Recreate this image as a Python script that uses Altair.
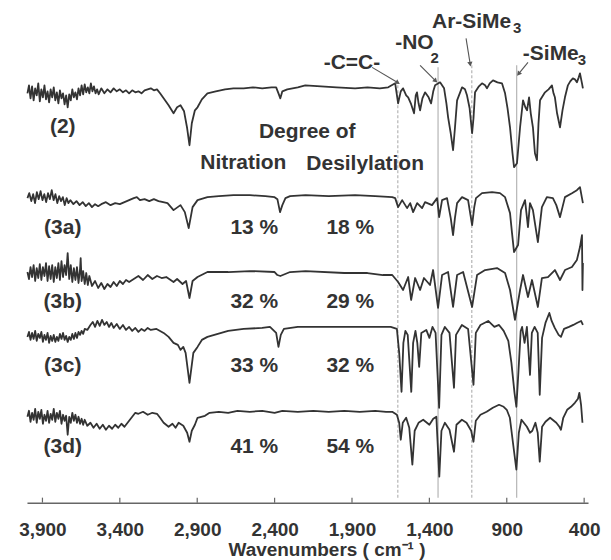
import altair as alt
import pandas as pd

FONT = "Liberation Sans"
INK = "#333333"

TICKS = [3900, 3400, 2900, 2400, 1900, 1400, 900, 400]
NAMES = ["(2)", "(3a)", "(3b)", "(3c)", "(3d)"]
NAME_T = [376, 275, 201, 137, 56]
NITRATION = ["13 %", "32 %", "33 %", "41 %"]
DESILYLATION = ["18 %", "29 %", "32 %", "54 %"]

# assigned bands (wavenumber), top of guide line, dashed?
BAND_WN = [1604, 1344, 1126, 836]
BAND_TOP = [420, 436, 440, 438]
BAND_DASH = [True, False, True, False]

# spectra: (wavenumber, transmittance a.u. incl. stacking offset)
S2 = [
    (3997, 410), (3987, 418), (3977, 405), (3967, 417), (3957, 403), (3947, 415), (3937, 408), (3927, 420),
    (3917, 402), (3907, 414), (3897, 406), (3887, 418), (3877, 404), (3867, 412), (3857, 401), (3847, 414),
    (3837, 406), (3827, 416), (3817, 403), (3807, 411), (3797, 400), (3787, 413), (3777, 405), (3767, 410),
    (3757, 399), (3747, 408), (3737, 396), (3727, 409), (3717, 403), (3707, 414), (3697, 406), (3687, 411),
    (3677, 404), (3667, 415), (3657, 408), (3647, 418), (3637, 409), (3627, 419), (3617, 411), (3607, 416),
    (3597, 410), (3587, 420), (3577, 412), (3567, 417), (3557, 410), (3547, 414), (3537, 409), (3520, 415),
    (3500, 410), (3480, 414), (3460, 411), (3440, 415), (3420, 412), (3400, 414), (3380, 411), (3360, 413),
    (3340, 410), (3320, 413), (3300, 411), (3280, 412), (3260, 410), (3240, 413), (3220, 414), (3200, 415),
    (3180, 413), (3160, 414), (3140, 410), (3117, 405), (3085, 398), (3053, 390), (3030, 396), (3008, 398),
    (2985, 392), (2965, 375), (2950, 358), (2935, 380), (2915, 393), (2898, 396), (2870, 404), (2834, 410),
    (2780, 412), (2720, 414), (2666, 415), (2600, 415), (2540, 416), (2480, 415), (2420, 416), (2390, 416),
    (2375, 410), (2363, 405), (2350, 412), (2318, 414), (2250, 416), (2202, 418), (2100, 417), (2000, 416),
    (1880, 415), (1800, 416), (1720, 415), (1666, 416), (1621, 420), (1602, 400), (1585, 412), (1570, 415),
    (1550, 408), (1537, 406), (1520, 400), (1499, 390), (1488, 408), (1480, 411), (1470, 400), (1460, 393),
    (1445, 405), (1428, 411), (1405, 406), (1389, 400), (1375, 412), (1363, 418), (1331, 421), (1305, 415),
    (1290, 400), (1279, 386), (1262, 370), (1247, 353), (1235, 375), (1221, 403), (1189, 416), (1170, 414),
    (1157, 408), (1140, 395), (1124, 370), (1115, 385), (1105, 411), (1080, 417), (1060, 420), (1040, 418),
    (1028, 415), (1010, 420), (989, 423), (960, 421), (931, 420), (911, 410), (895, 395), (879, 376),
    (863, 350), (853, 336), (834, 340), (814, 376), (795, 403), (780, 396), (769, 393), (756, 406),
    (745, 390), (731, 376), (718, 350), (705, 343), (695, 380), (685, 403), (653, 411), (630, 414),
    (608, 418), (598, 410), (589, 406), (575, 390), (556, 376), (540, 393), (524, 406), (505, 418),
    (490, 422), (473, 425), (460, 424), (447, 421), (435, 426), (427, 430), (414, 420), (408, 415),
]

S3A = [
    (3997, 305), (3985, 310), (3972, 302), (3960, 309), (3948, 300), (3936, 311), (3924, 304), (3912, 312),
    (3900, 303), (3888, 309), (3876, 301), (3864, 310), (3852, 304), (3840, 313), (3828, 303), (3816, 309),
    (3804, 300), (3792, 307), (3780, 302), (3768, 306), (3756, 298), (3744, 305), (3732, 300), (3720, 303),
    (3700, 299), (3680, 302), (3660, 298), (3640, 301), (3620, 297), (3600, 300), (3580, 296), (3560, 299),
    (3540, 297), (3520, 299), (3490, 301), (3460, 298), (3430, 300), (3400, 299), (3370, 301), (3340, 303),
    (3310, 305), (3290, 306), (3270, 303), (3240, 304), (3210, 302), (3180, 304), (3150, 302), (3120, 301),
    (3092, 300), (3053, 293), (3008, 298), (2980, 291), (2955, 275), (2930, 296), (2898, 303), (2834, 306),
    (2760, 307), (2666, 308), (2560, 308), (2460, 307), (2400, 306), (2382, 304), (2365, 291), (2350, 298),
    (2330, 305), (2300, 307), (2200, 308), (2050, 307), (1880, 308), (1750, 307), (1640, 306), (1621, 305),
    (1602, 296), (1576, 303), (1544, 295), (1524, 300), (1505, 291), (1479, 300), (1447, 295), (1428, 301),
    (1383, 298), (1350, 305), (1337, 286), (1318, 303), (1286, 305), (1262, 285), (1247, 268), (1235, 285),
    (1221, 300), (1189, 306), (1150, 303), (1124, 278), (1110, 296), (1099, 305), (1060, 310), (995, 311),
    (944, 310), (911, 306), (879, 290), (866, 270), (853, 251), (827, 258), (808, 293), (782, 303),
    (763, 276), (750, 300), (731, 293), (718, 280), (699, 261), (673, 296), (641, 306), (602, 305),
    (580, 298), (556, 286), (524, 306), (479, 310), (447, 313), (427, 316), (414, 305), (408, 300),
]

S3B = [
    (3997, 231), (3987, 224), (3977, 236), (3967, 226), (3957, 238), (3947, 222), (3937, 235), (3927, 225),
    (3917, 239), (3907, 223), (3897, 236), (3887, 227), (3877, 240), (3867, 222), (3857, 237), (3847, 224),
    (3837, 238), (3827, 221), (3817, 236), (3807, 225), (3797, 240), (3787, 223), (3777, 242), (3767, 226),
    (3757, 238), (3747, 228), (3737, 250), (3727, 224), (3717, 238), (3707, 221), (3697, 235), (3687, 223),
    (3677, 236), (3667, 220), (3657, 234), (3653, 245), (3647, 222), (3637, 232), (3627, 219), (3617, 230),
    (3607, 218), (3597, 227), (3580, 217), (3560, 222), (3540, 215), (3520, 220), (3500, 214), (3480, 219),
    (3460, 216), (3440, 221), (3420, 217), (3400, 222), (3380, 219), (3360, 223), (3340, 221), (3310, 224),
    (3280, 227), (3250, 223), (3220, 228), (3190, 224), (3160, 227), (3130, 225), (3100, 226), (3053, 221),
    (3030, 224), (2995, 219), (2972, 222), (2950, 205), (2930, 222), (2898, 226), (2834, 231), (2700, 231),
    (2560, 232), (2400, 231), (2382, 228), (2363, 227), (2300, 231), (2200, 232), (1950, 230), (1800, 230),
    (1700, 228), (1640, 228), (1602, 221), (1570, 213), (1537, 226), (1518, 203), (1492, 225), (1460, 213),
    (1435, 225), (1396, 218), (1376, 233), (1344, 195), (1318, 228), (1279, 231), (1247, 196), (1221, 228),
    (1182, 231), (1124, 196), (1092, 228), (1040, 233), (963, 235), (911, 230), (879, 213), (847, 183),
    (814, 213), (795, 228), (763, 206), (737, 223), (699, 196), (673, 225), (634, 226), (589, 233),
    (556, 223), (524, 233), (479, 236), (447, 243), (427, 256), (414, 268), (411, 213), (408, 240),
]

S3C = [
    (3997, 166), (3987, 171), (3977, 163), (3967, 170), (3957, 164), (3947, 172), (3937, 162), (3927, 169),
    (3917, 165), (3907, 171), (3897, 161), (3887, 168), (3877, 163), (3867, 170), (3857, 160), (3847, 167),
    (3837, 162), (3827, 168), (3817, 161), (3807, 166), (3797, 162), (3787, 169), (3777, 164), (3767, 170),
    (3757, 163), (3747, 167), (3737, 161), (3727, 166), (3717, 163), (3707, 169), (3697, 164), (3687, 170),
    (3677, 165), (3667, 171), (3657, 168), (3647, 172), (3637, 169), (3627, 174), (3610, 173), (3590, 178),
    (3575, 181), (3560, 176), (3545, 182), (3530, 177), (3515, 183), (3500, 178), (3485, 181), (3470, 176),
    (3455, 180), (3440, 175), (3420, 179), (3400, 174), (3380, 178), (3360, 173), (3340, 176), (3320, 172),
    (3300, 175), (3280, 171), (3260, 174), (3240, 172), (3220, 175), (3200, 173), (3163, 174), (3117, 170),
    (3085, 166), (3053, 160), (3025, 158), (3008, 153), (2990, 156), (2975, 150), (2950, 120), (2925, 150),
    (2898, 156), (2870, 163), (2834, 166), (2700, 172), (2600, 174), (2480, 175), (2430, 176), (2390, 170),
    (2375, 156), (2360, 168), (2340, 174), (2250, 176), (2000, 176), (1800, 176), (1650, 176), (1610, 174),
    (1595, 150), (1580, 111), (1568, 160), (1555, 172), (1540, 168), (1517, 111), (1505, 160), (1490, 172),
    (1478, 160), (1466, 136), (1452, 170), (1420, 173), (1400, 165), (1380, 176), (1360, 170), (1337, 95),
    (1322, 168), (1300, 176), (1270, 170), (1241, 115), (1228, 168), (1190, 178), (1150, 174), (1115, 118),
    (1100, 170), (1070, 178), (1020, 182), (980, 176), (950, 178), (920, 172), (890, 162), (870, 140),
    (850, 110), (838, 96), (825, 130), (810, 172), (801, 176), (785, 160), (770, 176), (750, 128),
    (738, 170), (720, 176), (700, 170), (687, 108), (672, 165), (650, 180), (625, 190), (610, 182),
    (590, 175), (565, 168), (550, 166), (530, 174), (498, 176), (470, 178), (447, 180), (420, 182),
    (408, 178),
]

S3D = [
    (3997, 86), (3987, 92), (3977, 81), (3967, 90), (3957, 83), (3947, 94), (3937, 80), (3927, 91),
    (3917, 84), (3907, 93), (3897, 79), (3887, 88), (3877, 82), (3867, 92), (3857, 80), (3847, 89),
    (3837, 83), (3827, 94), (3817, 81), (3807, 90), (3797, 84), (3787, 92), (3777, 79), (3767, 88),
    (3757, 82), (3747, 87), (3737, 68), (3727, 86), (3717, 80), (3707, 90), (3697, 82), (3687, 88),
    (3677, 80), (3667, 86), (3657, 79), (3647, 84), (3637, 78), (3627, 83), (3610, 77), (3590, 80),
    (3570, 75), (3550, 79), (3530, 74), (3510, 78), (3490, 73), (3470, 77), (3450, 74), (3430, 78),
    (3410, 75), (3390, 79), (3370, 76), (3350, 80), (3320, 86), (3300, 90), (3280, 89), (3250, 91),
    (3220, 88), (3190, 90), (3160, 89), (3140, 85), (3117, 80), (3085, 76), (3060, 79), (3040, 75),
    (3020, 80), (2990, 77), (2965, 70), (2950, 61), (2935, 72), (2915, 78), (2898, 85), (2850, 87),
    (2820, 90), (2760, 91), (2700, 90), (2640, 92), (2560, 91), (2480, 92), (2400, 90), (2350, 92),
    (2250, 91), (2150, 92), (2050, 91), (1950, 92), (1850, 91), (1750, 92), (1680, 91), (1640, 91),
    (1610, 88), (1595, 80), (1585, 63), (1572, 80), (1550, 85), (1530, 75), (1510, 38), (1495, 72),
    (1470, 80), (1440, 83), (1400, 78), (1375, 84), (1355, 86), (1336, 26), (1322, 72), (1300, 80),
    (1270, 73), (1241, 51), (1225, 78), (1190, 83), (1160, 80), (1130, 72), (1115, 61), (1100, 82),
    (1070, 88), (1030, 91), (990, 95), (950, 98), (920, 96), (900, 93), (880, 85), (860, 60),
    (838, 33), (822, 70), (805, 83), (790, 80), (770, 76), (750, 70), (735, 72), (715, 80),
    (700, 70), (687, 41), (672, 76), (650, 81), (620, 85), (580, 80), (560, 76), (550, 73),
    (535, 85), (510, 93), (485, 96), (460, 100), (440, 104), (431, 110), (420, 98), (411, 80),
]

SPECTRA = [S2, S3A, S3B, S3C, S3D]

rows = []
for name, pts in zip(NAMES, SPECTRA):
    for i, (w, t) in enumerate(pts):
        rows.append({"wn": w, "T": t, "s": name, "i": i})
spec = pd.DataFrame(rows)

XS = alt.Scale(domain=[375, 4000], reverse=True, nice=False, zero=False)
YS = alt.Scale(domain=[0, 495], nice=False, zero=False)
XAX = alt.Axis(values=TICKS, format=",.0f", title="Wavenumbers ( cm⁻¹ )", ticks=False, grid=False,
               labelFont=FONT, labelFontSize=19, labelFontWeight="bold", labelColor="#333",
               labelPadding=18, labelFlush=False, labelOverlap=False,
               titleFont=FONT, titleFontSize=19, titleFontWeight="bold", titleColor="#333",
               titlePadding=1, titleX=300,
               domainColor="#666", domainWidth=1.5)


def X(field="wn"):
    return alt.X(f"{field}:Q", scale=XS, axis=XAX)


def Y(field="T"):
    return alt.Y(f"{field}:Q", scale=YS, axis=None)


# guide lines of assigned bands
bands = pd.DataFrame({"wn": BAND_WN, "T": [5] * 4, "T2": BAND_TOP, "dash": BAND_DASH})
band_solid = alt.Chart(bands[~bands.dash]).mark_rule(color="#b5b5b5", strokeWidth=1.2).encode(
    x=X(), y=Y(), y2="T2:Q")
band_dash = alt.Chart(bands[bands.dash]).mark_rule(color="#b5b5b5", strokeWidth=1.2,
                                                   strokeDash=[3, 2]).encode(x=X(), y=Y(), y2="T2:Q")

# small axis ticks (pointing up)
tk = pd.DataFrame({"wn": TICKS, "T": [0] * len(TICKS), "T2": [5] * len(TICKS)})
ticks = alt.Chart(tk).mark_rule(color="#666", strokeWidth=1.2).encode(x=X(), y=Y(), y2="T2:Q")

lines = alt.Chart(spec).mark_line(color=INK, strokeWidth=1.8, strokeJoin="round").encode(
    x=X(), y=Y(), detail="s:N", order="i:Q")

# text annotations
PCT_WN = [2531, 1911]
tdf = pd.DataFrame(
    [{"wn": 3769, "T": t, "txt": n} for n, t in zip(NAMES, NAME_T)]
    + [{"wn": PCT_WN[0], "T": t, "txt": p} for p, t in zip(NITRATION, NAME_T[1:])]
    + [{"wn": PCT_WN[1], "T": t, "txt": p} for p, t in zip(DESILYLATION, NAME_T[1:])]
    + [{"wn": 2189, "T": 371, "txt": "Degree of"},
       {"wn": 2602, "T": 340, "txt": "Nitration"},
       {"wn": 1815, "T": 339, "txt": "Desilylation"}]
)
texts = alt.Chart(tdf).mark_text(font=FONT, fontSize=21, fontWeight="bold", color="#333",
                                 align="center", baseline="middle").encode(x=X(), y=Y(), text="txt:N")

top_left = pd.DataFrame([
    {"wn": 1621, "T": 460, "txt": "-NO"},
    {"wn": 1383, "T": 481, "txt": "Ar-SiMe"},
    {"wn": 796, "T": 449, "txt": "-SiMe"},
])
top_texts = alt.Chart(top_left).mark_text(font=FONT, fontSize=21, fontWeight="bold", color="#333",
                                          align="left", baseline="middle").encode(x=X(), y=Y(), text="txt:N")
cc = pd.DataFrame([{"wn": 1718, "T": 440, "txt": "-C=C-"}])
cc_text = alt.Chart(cc).mark_text(font=FONT, fontSize=21, fontWeight="bold", color="#333",
                                  align="right", baseline="middle").encode(x=X(), y=Y(), text="txt:N")
subs = pd.DataFrame([
    {"wn": 1392, "T": 445, "txt": "2"},
    {"wn": 860, "T": 475, "txt": "3"},
    {"wn": 441, "T": 443, "txt": "3"},
])
sub_texts = alt.Chart(subs).mark_text(font=FONT, fontSize=15, fontWeight="bold", color="#333",
                                      align="left", baseline="middle").encode(x=X(), y=Y(), text="txt:N")

# arrows
arr = pd.DataFrame([
    {"wn": 1770, "T": 436, "wn2": 1608, "T2": 421, "ang": 121},
    {"wn": 1460, "T": 438, "wn2": 1363, "T2": 423, "ang": 135},
    {"wn": 1163, "T": 465, "wn2": 1137, "T2": 440, "ang": 171},
    {"wn": 763, "T": 441, "wn2": 821, "T2": 430, "ang": 219},
])
shafts = alt.Chart(arr).mark_rule(color="#555", strokeWidth=1.1).encode(
    x=X(), y=Y(), x2="wn2:Q", y2="T2:Q")
heads = alt.Chart(arr).mark_point(shape="triangle", filled=True, size=28, color="#555", opacity=1).encode(
    x=X("wn2"), y=Y("T2"), angle=alt.Angle("ang:Q", scale=None))

chart = alt.layer(
    band_dash, band_solid, ticks, lines, texts, top_texts, cc_text, sub_texts, shafts, heads
).properties(
    width=562, height=495,
    padding={"left": 19, "top": 0, "right": 15, "bottom": 60},
    autosize=alt.AutoSizeParams(type="none"),
    background="white",
).configure_view(stroke=None)

chart.save("out.html", embed_options={"renderer": "svg", "actions": False})
